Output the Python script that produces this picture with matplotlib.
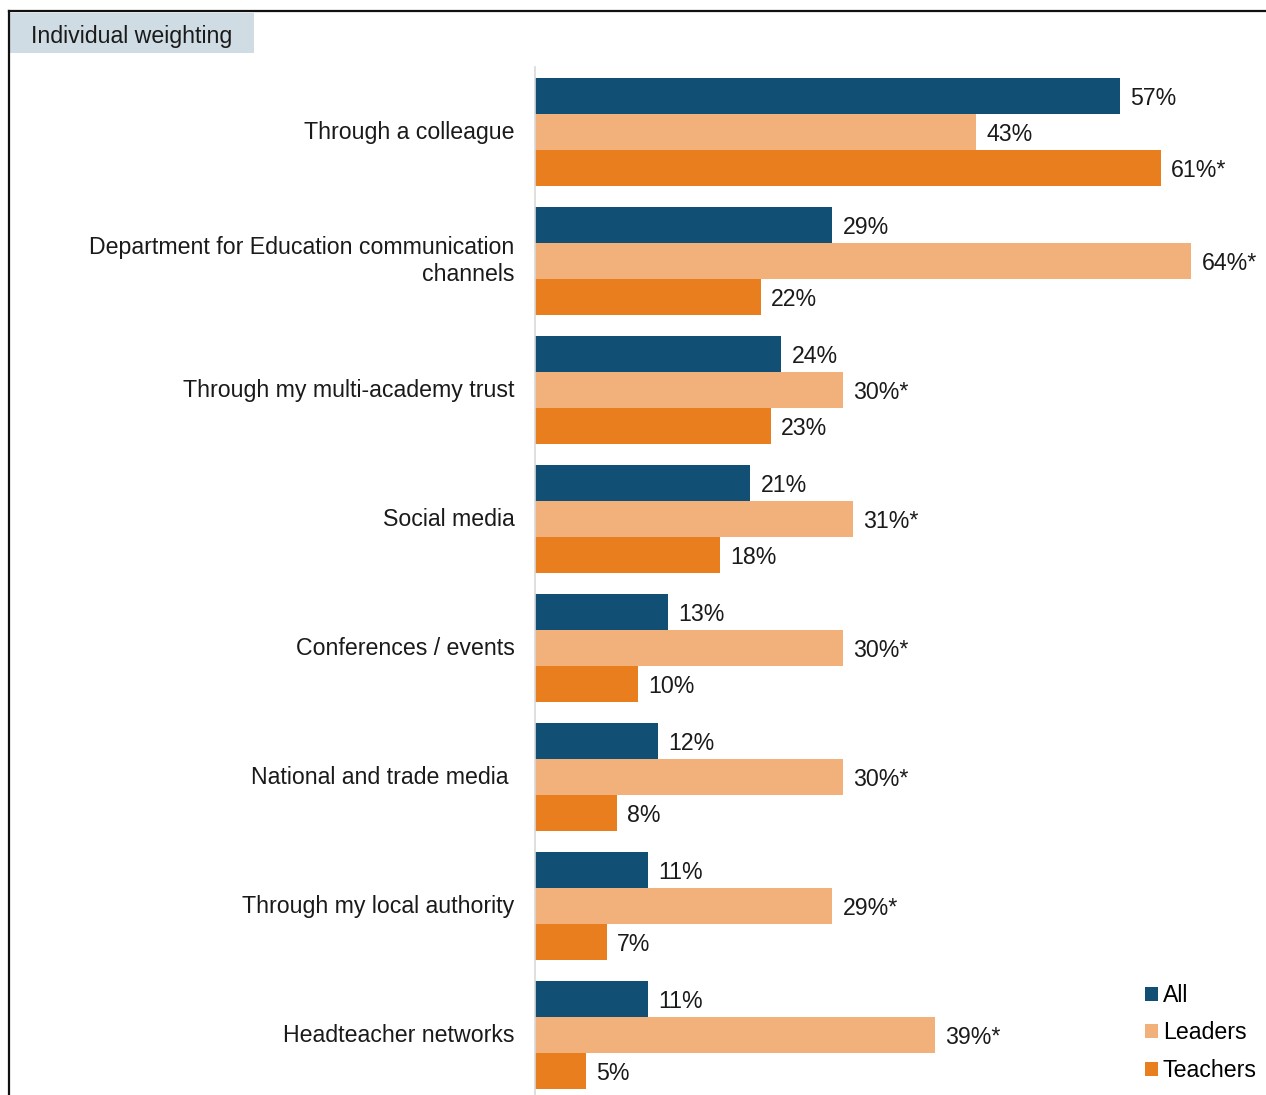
import matplotlib.pyplot as plt
from matplotlib.patches import Rectangle, Patch
from matplotlib.lines import Line2D
import numpy as np

plt.rcParams['font.family'] = ['Liberation Sans', 'DejaVu Sans']

categories = [
    "Through a colleague",
    "Department for Education communication\nchannels",
    "Through my multi-academy trust",
    "Social media",
    "Conferences / events",
    "National and trade media ",
    "Through my local authority",
    "Headteacher networks",
]
all_vals = [57, 29, 24, 21, 13, 12, 11, 11]
leaders_vals = [43, 64, 30, 31, 30, 30, 29, 39]
teachers_vals = [61, 22, 23, 18, 10, 8, 7, 5]
# significance markers per series
leaders_sig = [False, True, True, True, True, True, True, True]
teachers_sig = [True, False, False, False, False, False, False, False]

series_names = ["All", "Leaders", "Teachers"]
colors = ["#114F74", "#F2B17B", "#E97E1F"]

W, H = 1266, 1095
fig = plt.figure(figsize=(W / 100, H / 100), dpi=100)

ax = fig.add_axes([535 / W, 0, 718 / W, (H - 67.5) / H])
ax.set_xlim(0, 70)
ax.set_ylim(7.465, -0.5)

y = np.arange(len(categories))
h = 0.28
fs = 16.7
series = [
    (all_vals, [False] * len(all_vals)),
    (leaders_vals, leaders_sig),
    (teachers_vals, teachers_sig),
]
for k, (vals, sig) in enumerate(series):
    pos = y + (k - 1) * h
    ax.barh(pos, vals, height=h, color=colors[k], edgecolor='none')
    for p, v, s in zip(pos, vals, sig):
        ax.text(v + 1.0, p, f"{v}%" + ("*" if s else ""), va='center_baseline',
                ha='left', fontsize=fs, color='#1a1a1a')

for yi, cat in zip(y, categories):
    ax.text(-2.0, yi, cat, ha='right', va='center', fontsize=fs,
            color='#1a1a1a', linespacing=1.2)

ax.set_xticks([])
ax.set_yticks([])
for side in ['top', 'right', 'bottom']:
    ax.spines[side].set_visible(False)
ax.spines['left'].set_color('#D9D9D9')
ax.spines['left'].set_linewidth(1.2)

# legend
handles = [Patch(facecolor=c, edgecolor='none', label=n)
           for c, n in zip(colors, series_names)]
fig.legend(handles=handles, loc='lower left',
           bbox_to_anchor=(1136 / W, 4 / H), frameon=False,
           fontsize=fs, handlelength=0.55, handleheight=0.55,
           handletextpad=0.2, labelspacing=0.62, borderaxespad=0)

# frame lines
fig.add_artist(Line2D([9 / W, 1], [1 - 11 / H, 1 - 11 / H],
                      transform=fig.transFigure, color='#111111', lw=1.6))
fig.add_artist(Line2D([9 / W, 9 / W], [0, 1 - 11 / H],
                      transform=fig.transFigure, color='#111111', lw=1.6))

# title tab
fig.add_artist(Rectangle((10 / W, 1 - 53 / H), 244 / W, 40 / H,
                         transform=fig.transFigure, facecolor='#D0DCE4',
                         edgecolor='none'))
fig.text(31 / W, 1 - 34 / H, "Individual weighting", ha='left',
         va='center_baseline', fontsize=fs, color='#1a1a1a')

fig.savefig("out.png", dpi=100)
